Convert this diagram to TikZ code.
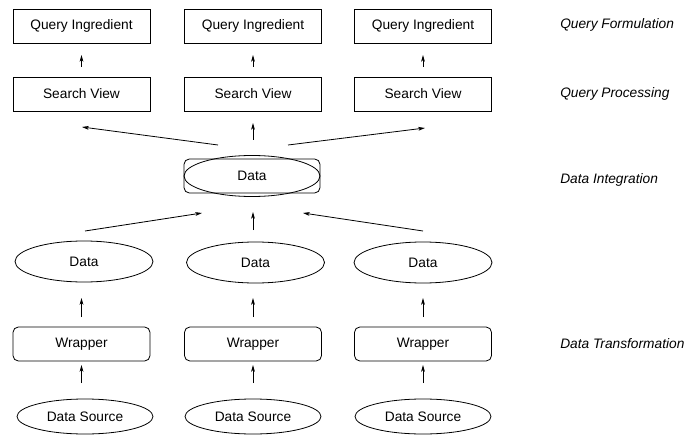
\documentclass[tikz,border=0pt]{standalone}
\usepackage{fontspec}
\setmainfont{Liberation Sans}
\usetikzlibrary{shapes.geometric,arrows.meta}
\begin{document}
\begin{tikzpicture}[x=0.75pt,y=-0.75pt,
  every node/.style={font=\fontsize{10.3}{12}\selectfont},
  sqbox/.style={draw,line width=0.6pt,minimum width=102.75pt,minimum height=25.5pt,inner sep=0pt},
  rbox/.style={sqbox,rounded corners=4pt},
  ell/.style={draw,ellipse,line width=0.6pt,minimum width=103.5pt,minimum height=30.75pt,inner sep=0pt},
  srcell/.style={ell,minimum width=102pt,minimum height=26.25pt},
  layer/.style={anchor=west,inner sep=0pt,font=\fontsize{10.3}{12}\selectfont\itshape},
  arr/.style={line width=0.6pt,-{Stealth[length=5pt,width=2.8pt,inset=1.2pt]}}]
\useasboundingbox (0,0) rectangle (686,435);
% top rows
\node[sqbox] (qi1) at (81.5,26) {Query Ingredient};
\node[sqbox] (qi2) at (253,26) {Query Ingredient};
\node[sqbox] (qi3) at (423,26) {Query Ingredient};
\node[sqbox] (sv1) at (81.5,94) {Search View};
\node[sqbox] (sv2) at (253,94) {Search View};
\node[sqbox] (sv3) at (423,94) {Search View};
% integration
\node[rbox,minimum width=102pt] (direct) at (252,176) {};
\node[ell,minimum width=102pt] (di) at (252,176) {Data};
% lower data
\node[ell] (d1) at (84,261.5) {Data};
\node[ell] (d2) at (255.5,262.5) {Data};
\node[ell] (d3) at (423,262.5) {Data};
\node[rbox] (w1) at (81.5,344) {Wrapper};
\node[rbox] (w2) at (253,344) {Wrapper};
\node[rbox] (w3) at (423,344) {Wrapper};
\node[srcell] (s1) at (85,416.5) {Data Source};
\node[srcell] (s2) at (253,416.5) {Data Source};
\node[srcell] (s3) at (423,416.5) {Data Source};
% layer labels
\node[layer] (l1) at (560,25) {Query Formulation};
\node[layer] (l2) at (560,94) {Query Processing};
\node[layer] (l3) at (560,180) {Data Integration};
\node[layer] (l4) at (560,344) {Data Transformation};
% arrow end coordinates
\foreach \i/\x in {1/81.5,2/253,3/423}{
  \coordinate (qa\i) at (\x,67); \coordinate (qb\i) at (\x,55);
  \coordinate (wa\i) at (\x,317); \coordinate (wb\i) at (\x,298);
  \coordinate (sa\i) at (\x,383); \coordinate (sb\i) at (\x,365);
}
\coordinate (ua1) at (218,145); \coordinate (ub1) at (82,127);
\coordinate (ua2) at (253,140); \coordinate (ub2) at (253,123);
\coordinate (ua3) at (288,145); \coordinate (ub3) at (425,128);
\coordinate (la1) at (85,231);  \coordinate (lb1) at (202,213);
\coordinate (la2) at (253,230); \coordinate (lb2) at (253,212);
\coordinate (la3) at (423,231); \coordinate (lb3) at (303,213);
\foreach \i in {1,2,3}{
  \draw[arr] (qa\i) -- (qb\i);
  \draw[arr] (wa\i) -- (wb\i);
  \draw[arr] (sa\i) -- (sb\i);
  \draw[arr] (ua\i) -- (ub\i);
  \draw[arr] (la\i) -- (lb\i);
}
\end{tikzpicture}
\end{document}
